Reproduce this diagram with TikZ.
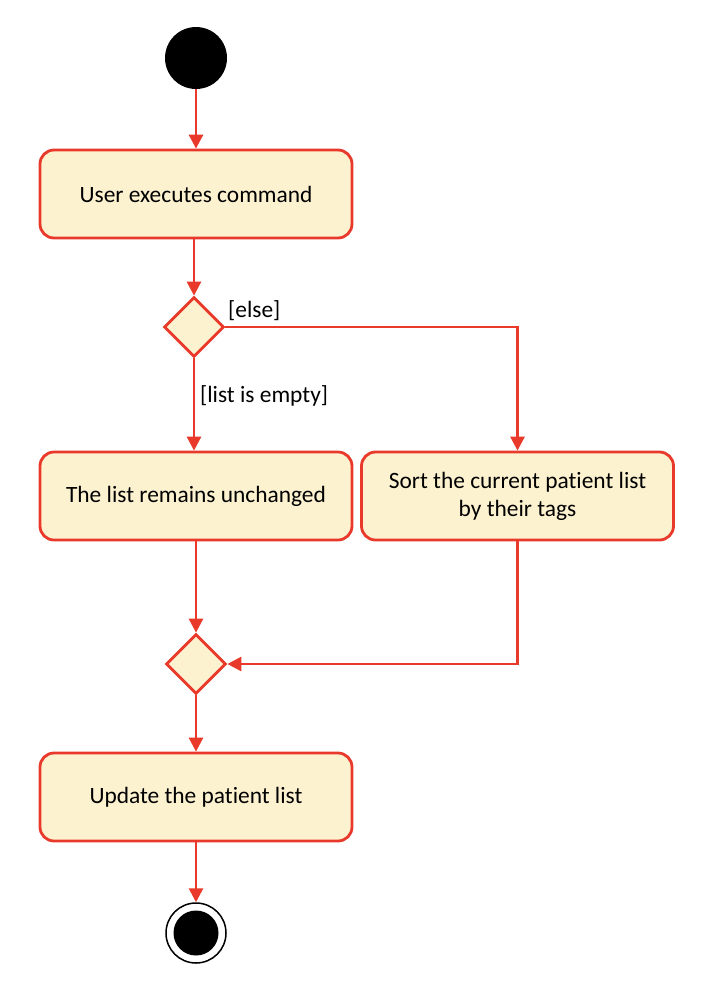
\documentclass[tikz,border=0pt]{standalone}
\usepackage{fontspec}
\setmainfont{Carlito}[Ligatures={NoCommon,NoRequired,NoContextual,NoDiscretionary}]
\usetikzlibrary{shapes.geometric,arrows.meta}
\definecolor{lred}{RGB}{232,57,42}
\definecolor{lfill}{RGB}{253,242,208}
\begin{document}
\begin{tikzpicture}[x=1pt,y=-1pt,
  actbox/.style={draw=lred,fill=lfill,line width=2.8pt,rounded corners=14pt,minimum width=312pt,minimum height=88pt,align=center,font=\fontsize{23.4}{28}\selectfont,inner sep=0pt},
  decide/.style={draw=lred,fill=lfill,line width=2.8pt,diamond,minimum width=60pt,minimum height=60pt,inner sep=0pt},
  flow/.style={draw=lred,line width=2.8pt,-{Triangle[length=14pt,width=14pt]}},
  guard/.style={font=\fontsize{23.4}{28}\selectfont,inner sep=0pt}]
\useasboundingbox (0,0) rectangle (718,994);
\node[circle,fill=black,minimum size=62pt,inner sep=0pt] (start) at (196,58) {};
\node[actbox] (b1) at (196,194) {User executes command};
\node[decide] (d1) at (194,327) {};
\node[actbox] (b2) at (196,496) {The list remains unchanged};
\node[actbox] (b3) at (517.5,496) {Sort the current patient list\\by their tags};
\node[decide] (d2) at (196,664) {};
\node[actbox] (b4) at (196,797) {Update the patient list};
\node[circle,draw=black,line width=1.5pt,fill=white,minimum size=60pt,inner sep=0pt] (endo) at (196,933) {};
\node[circle,fill=black,minimum size=45pt,inner sep=0pt] (endi) at (196,933) {};
\draw[flow] (start) -- (b1);
\draw[flow] (b1.south -| d1) -- (d1);
\draw[flow] (d1) -- (d1 |- b2.north);
\draw[flow] (d1.east) -| (b3.north);
\draw[flow] (b2) -- (d2);
\draw[flow] (b3.south) |- (d2.east);
\draw[flow] (d2) -- (b4);
\draw[flow] (b4) -- (endo);
\node[guard,anchor=west] (g1) at (228,311) {[else]};
\node[guard,anchor=west] (g2) at (200,396) {[list is empty]};
\end{tikzpicture}
\end{document}
